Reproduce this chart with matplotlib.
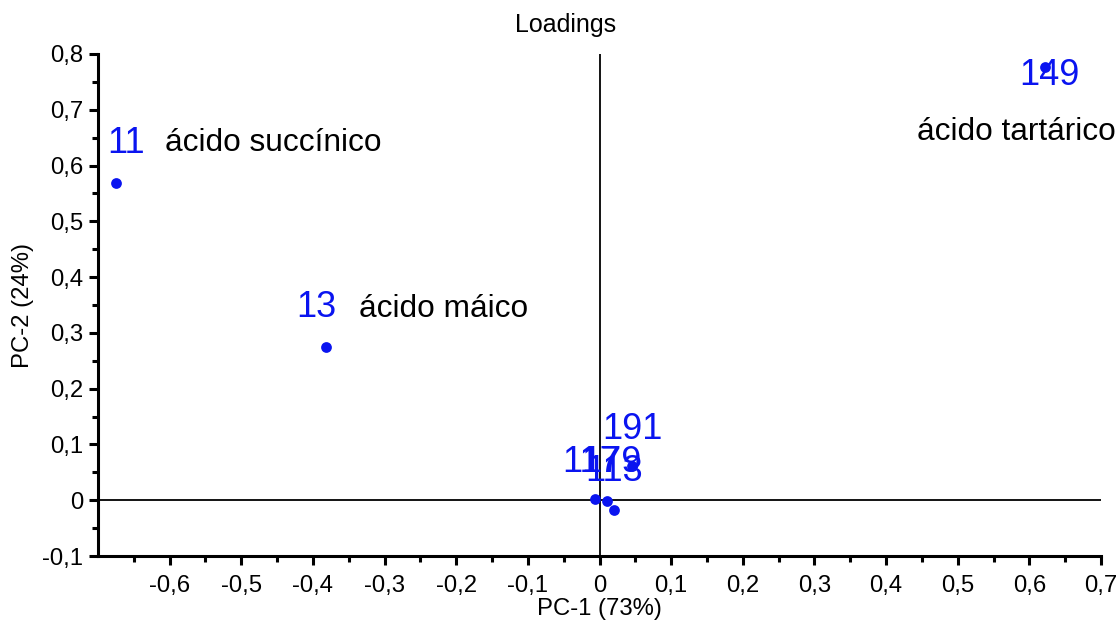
import matplotlib
matplotlib.use("Agg")
import matplotlib.pyplot as plt
from matplotlib.ticker import FixedLocator, FuncFormatter

plt.rcParams['font.family'] = ['Liberation Sans', 'DejaVu Sans']

# Loadings of PC-1 and PC-2
ids = ["11", "13", "149", "191", "117", "179", "113"]
pc1 = [-0.675, -0.382, 0.622, 0.046, -0.006, 0.010, 0.020]
pc2 = [0.568, 0.275, 0.776, 0.061, 0.002, -0.002, -0.017]

# Label anchor positions (data units)
label_x = [-0.661, -0.395, 0.628, 0.046, -0.012, 0.016, 0.020]
label_y = [0.640, 0.345, 0.762, 0.126, 0.068, 0.068, 0.052]

# Compound names
names = ["ácido succínico", "ácido máico", "ácido tartárico"]
name_x = [-0.607, -0.336, 0.443]
name_y = [0.640, 0.343, 0.660]

x_ticks = [-0.6, -0.5, -0.4, -0.3, -0.2, -0.1, 0.0, 0.1, 0.2, 0.3, 0.4, 0.5, 0.6, 0.7]
y_ticks = [-0.1, 0.0, 0.1, 0.2, 0.3, 0.4, 0.5, 0.6, 0.7, 0.8]

fig = plt.figure(figsize=(11.19, 6.21), dpi=100)
ax = fig.add_axes([98 / 1119, 1 - 556 / 621, (1101 - 98) / 1119, (556 - 54) / 621])
ax.set_xlim(-0.7, 0.7)
ax.set_ylim(-0.1, 0.8)

ax.axhline(0, color="black", lw=1.3, zorder=1)
ax.axvline(0, color="black", lw=1.3, zorder=1)

ax.scatter(pc1, pc2, s=60, color="#0a14f0", zorder=3, linewidths=0)

for t, x, y in zip(ids, label_x, label_y):
    ax.text(x, y, t, color="#0a14f0", fontsize=26, ha="center", va="center",
            clip_on=False, zorder=4)

for t, x, y in zip(names, name_x, name_y):
    ax.text(x, y, t, color="black", fontsize=22.8, ha="left", va="center",
            clip_on=False, zorder=4)

fmt = FuncFormatter(lambda v, p: ("%g" % round(v, 2)).replace(".", ","))
ax.xaxis.set_major_locator(FixedLocator(x_ticks))
ax.yaxis.set_major_locator(FixedLocator(y_ticks))
ax.xaxis.set_minor_locator(FixedLocator([-0.65 + 0.1 * i for i in range(14)]))
ax.yaxis.set_minor_locator(FixedLocator([-0.05 + 0.1 * i for i in range(9)]))
ax.xaxis.set_major_formatter(fmt)
ax.yaxis.set_major_formatter(fmt)

for side in ["top", "right"]:
    ax.spines[side].set_visible(False)
for side in ["left", "bottom"]:
    ax.spines[side].set_linewidth(2.2)
    ax.spines[side].set_capstyle("projecting")

ax.tick_params(which="major", direction="out", length=6.5, width=2.2, labelsize=17.2)
ax.tick_params(axis="x", which="major", pad=7)
ax.tick_params(axis="y", which="major", pad=4)
ax.tick_params(which="minor", direction="out", length=4, width=2.2)

ax.set_xlabel("PC-1 (73%)", fontsize=17.2, labelpad=1)
ax.set_ylabel("PC-2 (24%)", fontsize=17.2, labelpad=6)

fig.text(566 / 1119, 1 - 25 / 621, "Loadings", fontsize=18, ha="center", va="center")

fig.savefig("out.png", dpi=100)
